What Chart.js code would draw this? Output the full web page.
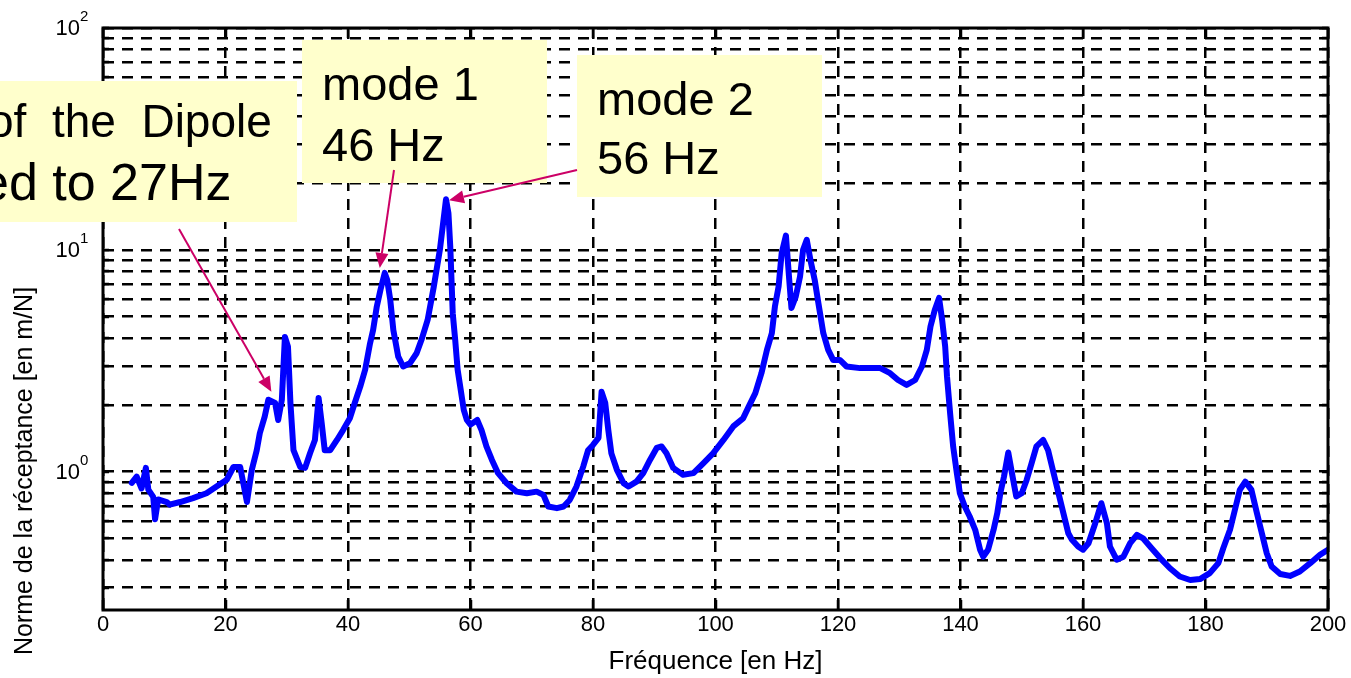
<!DOCTYPE html>
<html>
<head>
<meta charset="utf-8">
<title>Norme de la réceptance</title>
<script src="https://cdn.jsdelivr.net/npm/chart.js@4.4.1/dist/chart.umd.min.js"></script>
<style>
  html, body { margin: 0; padding: 0; background: #ffffff; }
  #wrap { width: 1351px; height: 678px; position: relative; }
</style>
</head>
<body>
<div id="wrap"><canvas id="frf" width="1351" height="678"></canvas></div>
<script>
// Measured receptance norm versus frequency
const freqHz = [
  4.7, 5.5, 6.3, 7.0, 7.4, 8.2, 8.5, 9.0, 10.4, 10.9, 12.6, 14.7, 16.9, 18.6, 20.2,
  21.3, 22.4, 23.5, 24.3, 25.1, 25.6, 26.4, 27.0, 28.1, 28.6, 29.2, 29.7, 30.2, 30.6, 31.1,
  32.2, 33.0, 33.8, 34.6, 35.2, 35.7, 36.2, 37.1, 38.2, 39.2, 40.3, 41.1, 42.0, 42.8, 43.6,
  44.1, 44.7, 45.3, 46.0, 46.4, 46.9, 47.4, 48.2, 49.0, 50.1, 51.2, 52.0, 53.0, 54.0, 55.0,
  56.0, 56.4, 56.7, 57.1, 57.5, 57.9, 58.4, 58.9, 59.4, 60.0, 61.1, 61.8, 62.6, 63.5, 64.5,
  65.9, 67.5, 69.2, 70.8, 71.9, 72.7, 74.1, 75.2, 76.2, 77.3, 78.4, 79.2, 80.0, 80.9, 81.4,
  82.0, 82.5, 83.0, 83.9, 85.0, 85.8, 87.1, 88.2, 89.3, 90.4, 91.2, 92.0, 93.1, 94.7, 96.4,
  98.0, 99.6, 101.3, 102.9, 104.5, 105.4, 106.5, 107.5, 108.4, 109.2, 109.7, 110.3, 110.8, 111.5, 112.0,
  112.4, 113.1, 113.8, 114.3, 114.9, 115.5, 116.2, 116.8, 117.6, 118.4, 119.2, 120.3, 121.4, 123.6, 126.9,
  128.5, 129.8, 131.2, 132.6, 133.7, 134.5, 135.1, 135.8, 136.5, 137.0, 137.5, 137.8, 138.3, 138.8, 139.4,
  139.9, 140.7, 141.5, 142.4, 143.2, 143.7, 144.5, 145.4, 146.0, 146.5, 147.1, 147.8, 148.4, 149.1, 150.0,
  150.8, 151.6, 152.4, 153.5, 154.3, 155.2, 156.0, 156.8, 157.6, 158.2, 159.2, 160.0, 160.9, 162.0, 163.0,
  163.9, 164.4, 165.5, 166.6, 167.7, 168.8, 169.8, 171.2, 172.6, 174.2, 175.8, 177.5, 179.1, 180.7, 182.1,
  182.9, 184.0, 184.8, 185.6, 186.5, 187.5, 188.4, 189.2, 190.0, 190.8, 192.2, 193.8, 195.4, 197.1, 198.7,
  200.0
];
const receptance = [
  0.89, 0.95, 0.84, 1.04, 0.83, 0.77, 0.61, 0.75, 0.73, 0.71, 0.73, 0.76, 0.80, 0.86, 0.92,
  1.05, 1.05, 0.73, 1.02, 1.25, 1.49, 1.77, 2.11, 2.04, 1.71, 2.11, 4.05, 3.66, 2.04, 1.25,
  1.05, 1.04, 1.21, 1.39, 2.15, 1.66, 1.25, 1.25, 1.39, 1.54, 1.74, 2.04, 2.42, 2.88, 3.79,
  4.35, 5.55, 6.60, 7.87, 7.31, 5.95, 4.35, 3.30, 2.98, 3.08, 3.42, 3.93, 4.83, 6.81, 10.0,
  16.9, 14.6, 10.3, 5.18, 3.93, 2.88, 2.34, 1.90, 1.71, 1.63, 1.71, 1.54, 1.30, 1.13, 0.985,
  0.887, 0.813, 0.800, 0.813, 0.786, 0.697, 0.685, 0.697, 0.746, 0.857, 1.054, 1.25, 1.32, 1.42, 2.29,
  2.04, 1.54, 1.21, 1.02, 0.887, 0.857, 0.902, 0.985, 1.13, 1.28, 1.30, 1.21, 1.04, 0.968, 0.985,
  1.09, 1.21, 1.39, 1.60, 1.74, 1.96, 2.26, 2.78, 3.54, 4.21, 5.55, 6.83, 9.66, 11.6, 7.57,
  5.47, 6.15, 7.57, 10.0, 11.1, 9.0, 7.31, 5.74, 4.21, 3.54, 3.19, 3.19, 2.98, 2.93, 2.93,
  2.78, 2.59, 2.46, 2.59, 2.98, 3.54, 4.51, 5.36, 6.07, 4.83, 3.66, 2.68, 1.84, 1.30, 0.985,
  0.800, 0.697, 0.628, 0.547, 0.445, 0.414, 0.445, 0.547, 0.650, 0.800, 0.950, 1.22, 0.985, 0.773, 0.800,
  0.918, 1.09, 1.30, 1.39, 1.25, 0.985, 0.800, 0.650, 0.528, 0.493, 0.460, 0.445, 0.476, 0.586, 0.721,
  0.586, 0.460, 0.401, 0.414, 0.476, 0.519, 0.501, 0.452, 0.408, 0.367, 0.337, 0.325, 0.328, 0.349, 0.387,
  0.452, 0.547, 0.673, 0.828, 0.902, 0.828, 0.650, 0.528, 0.429, 0.374, 0.346, 0.339, 0.355, 0.387, 0.422,
  0.445
];

// Axis ticks and labels
const xTickValues = [0, 20, 40, 60, 80, 100, 120, 140, 160, 180, 200];
const yGridValues = [0.3, 0.4, 0.5, 0.6, 0.7, 0.8, 0.9, 1, 2, 3, 4, 5, 6, 7, 8, 9,
                     10, 20, 30, 40, 50, 60, 70, 80, 90, 100];
const yDecadeValues = [1, 10, 100];
const yDecadeExponents = ['0', '1', '2'];
const xAxisTitle = 'Fréquence [en Hz]';
const yAxisTitle = 'Norme de la réceptance [en m/N]';

// Resonances pointed out on the curve
const dipoleHz = 27;
const mode1Hz = 46;
const mode2Hz = 56;
const calloutTexts = [
  ['of  the  Dipole', 'ed to ' + dipoleHz + 'Hz'],
  ['mode 1', mode1Hz + ' Hz'],
  ['mode 2', mode2Hz + ' Hz']
];
const calloutFreqs = [dipoleHz, mode1Hz, mode2Hz];

// Callout geometry (canvas pixels)
const calloutLayout = [
  { box: [0, 81, 297, 222], lines: [{ x: -12, y: 137, size: 46 }, { x: -20, y: 200, size: 52 }],
    from: [179, 229], tipShift: [3, -8] },
  { box: [302, 40, 547, 183], lines: [{ x: 322, y: 100, size: 47 }, { x: 322, y: 161, size: 47 }],
    from: [394, 170], tipShift: [-5, -5] },
  { box: [577, 55, 822, 197], lines: [{ x: 597, y: 115, size: 47 }, { x: 597, y: 174, size: 47 }],
    from: [577, 170], tipShift: [3, 1] }
];

const FONT = '"Liberation Sans", Arial, Helvetica, sans-serif';
const INK = '#000000';
const ARROW = '#cc0066';
const BOX_FILL = '#ffffcc';

function valueAt(freq) {
  const i = freqHz.indexOf(freq);
  return i >= 0 ? receptance[i] : null;
}

function drawArrow(ctx, x0, y0, x1, y1) {
  const ang = Math.atan2(y1 - y0, x1 - x0);
  const len = 15, half = 6.5;
  const bx = x1 - len * Math.cos(ang), by = y1 - len * Math.sin(ang);
  ctx.strokeStyle = ARROW;
  ctx.fillStyle = ARROW;
  ctx.lineWidth = 2;
  ctx.beginPath();
  ctx.moveTo(x0, y0);
  ctx.lineTo(bx, by);
  ctx.stroke();
  ctx.beginPath();
  ctx.moveTo(x1, y1);
  ctx.lineTo(bx + half * Math.sin(ang), by - half * Math.cos(ang));
  ctx.lineTo(bx - half * Math.sin(ang), by + half * Math.cos(ang));
  ctx.closePath();
  ctx.fill();
}

const decorations = {
  id: 'decorations',
  afterDraw(chart) {
    const { ctx, chartArea: a, scales: { x, y } } = chart;
    ctx.save();

    // inward tick marks
    ctx.strokeStyle = INK;
    ctx.lineWidth = 2.5;
    ctx.setLineDash([]);
    ctx.beginPath();
    yGridValues.forEach(v => {
      const py = Math.round(y.getPixelForValue(v));
      ctx.moveTo(a.left, py); ctx.lineTo(a.left + 6, py);
      ctx.moveTo(a.right, py); ctx.lineTo(a.right - 6, py);
    });
    xTickValues.forEach(v => {
      const px = Math.round(x.getPixelForValue(v));
      ctx.moveTo(px, a.bottom); ctx.lineTo(px, a.bottom - 10);
      ctx.moveTo(px, a.top); ctx.lineTo(px, a.top + 10);
    });
    ctx.stroke();

    // axes frame
    ctx.lineWidth = 3;
    ctx.strokeRect(a.left, a.top, a.right - a.left, a.bottom - a.top);

    // decade labels with exponents
    ctx.fillStyle = INK;
    yDecadeValues.forEach((v, i) => {
      const py = y.getPixelForValue(v);
      ctx.font = '22px ' + FONT;
      ctx.textAlign = 'right';
      ctx.textBaseline = 'middle';
      ctx.fillText('10', 80, py + 1);
      ctx.font = '15px ' + FONT;
      ctx.textAlign = 'left';
      ctx.textBaseline = 'alphabetic';
      ctx.fillText(yDecadeExponents[i], 80, py - 7);
    });

    // vertical axis title
    ctx.save();
    ctx.translate(25, 471);
    ctx.rotate(-Math.PI / 2);
    ctx.font = '25px ' + FONT;
    ctx.textAlign = 'center';
    ctx.textBaseline = 'middle';
    ctx.fillText(yAxisTitle, 0, 0);
    ctx.restore();

    // callouts
    calloutLayout.forEach((c, i) => {
      const [l, t, r, b] = c.box;
      ctx.fillStyle = BOX_FILL;
      ctx.fillRect(l, t, r - l, b - t);
      ctx.fillStyle = INK;
      ctx.textAlign = 'left';
      ctx.textBaseline = 'alphabetic';
      c.lines.forEach((ln, k) => {
        ctx.font = ln.size + 'px ' + FONT;
        ctx.fillText(calloutTexts[i][k], ln.x, ln.y);
      });
    });
    calloutLayout.forEach((c, i) => {
      const f = calloutFreqs[i];
      const tx = x.getPixelForValue(f) + c.tipShift[0];
      const ty = y.getPixelForValue(valueAt(f)) + c.tipShift[1];
      drawArrow(ctx, c.from[0], c.from[1], tx, ty);
    });

    ctx.restore();
  }
};

new Chart(document.getElementById('frf').getContext('2d'), {
  type: 'line',
  data: {
    datasets: [{
      data: freqHz.map((f, i) => ({ x: f, y: receptance[i] })),
      borderColor: '#0000ff',
      borderWidth: 6,
      borderJoinStyle: 'round',
      borderCapStyle: 'round',
      pointRadius: 0,
      tension: 0,
      fill: false
    }]
  },
  options: {
    responsive: false,
    animation: false,
    layout: { padding: { top: 28, right: 23, left: 0, bottom: 0 } },
    plugins: { legend: { display: false }, tooltip: { enabled: false } },
    scales: {
      x: {
        type: 'linear',
        min: 0,
        max: 200,
        afterBuildTicks: s => { s.ticks = xTickValues.map(v => ({ value: v })); },
        afterFit: s => { s.height = 68; },
        grid: { color: INK, lineWidth: 2.5, drawTicks: false, borderDash: [11, 8] },
        border: { display: false, dash: [11, 8] },
        ticks: { color: INK, font: { family: FONT, size: 22 }, padding: 2, maxRotation: 0, autoSkip: false },
        title: { display: true, text: xAxisTitle, color: INK, font: { family: FONT, size: 26 },
                 padding: { top: 0, bottom: 1 } }
      },
      y: {
        type: 'logarithmic',
        min: 0.238,
        max: 100,
        afterBuildTicks: s => { s.ticks = yGridValues.map(v => ({ value: v })); },
        afterFit: s => { s.width = 103; },
        grid: { color: INK, lineWidth: 2.5, drawTicks: false, borderDash: [11, 8] },
        border: { display: false, dash: [11, 8] },
        ticks: { display: false }
      }
    }
  },
  plugins: [decorations]
});
</script>
</body>
</html>
